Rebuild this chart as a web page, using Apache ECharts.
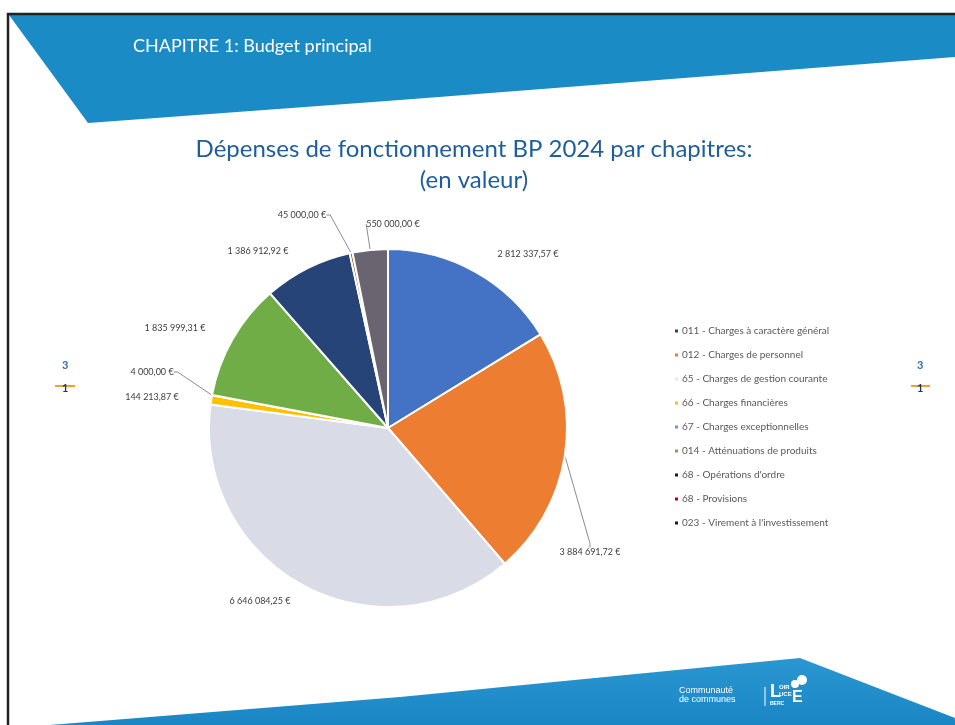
<!DOCTYPE html>
<html><head><meta charset="utf-8">
<script src="https://cdn.jsdelivr.net/npm/echarts@6/dist/echarts.min.js"></script>
<style>html,body{margin:0;padding:0;background:#fff}#c{width:955px;height:725px}</style>
</head><body><div id="c"></div>
<script>
var categories = ["011 - Charges à caractère général","012 - Charges de personnel","65 - Charges de gestion courante","66 - Charges financières","67 - Charges exceptionnelles","014 - Atténuations de produits","68 - Opérations d'ordre","68 - Provisions","023 - Virement à l'investissement"];
var values = [2812337.57, 3884691.72, 6646084.25, 144213.87, 4000.00, 1835999.31, 1386912.92, 45000.00, 550000.00];
var colors = ["#4472C4","#ED7D31","#D9DBE6","#FFC000","#5B9BD5","#70AD47","#264478","#9E480E","#6A6370"];
var legendColors = ["#264478","#ED7D31","#E8E8EE","#FFC000","#5B9BD5","#70AD47","#1a1a1a","#C00000","#1a1a1a"];
// label anchor layout (styling, not data)
var labelLayoutPos = [[528,254],[590,552],[260,601],[152,397],[152,372],[175,328],[258,251],[302,215],[393,224]];
var showLine = [false,true,false,false,true,false,false,true,true];

function fmt(v){
  var s = v.toFixed(2).split('.');
  var i = s[0].replace(/\B(?=(\d{3})+(?!\d))/g,' ');
  return i + ',' + s[1] + ' €';
}
var FONT = 'Lato, "Open Sans", sans-serif';
var chart = echarts.init(document.getElementById('c'));
var data = categories.map(function(n,i){
  return {name:n, value:values[i], itemStyle:{color:colors[i]}, labelLine:{show:showLine[i]}};
});
chart.setOption({
  animation:false,
  title:{text:"Dépenses de fonctionnement BP 2024 par chapitres:\n(en valeur)", top:129, itemGap:0,
    textStyle:{fontFamily:FONT, fontSize:24, fontWeight:'normal', color:'#1F5E9C', lineHeight:31}, left:469, textAlign:'center'},
  legend:{orient:'vertical', left:668, top:320, itemWidth:5, itemHeight:5, itemGap:12, icon:'rect',
    data: categories.map(function(n,i){return {name:n, itemStyle:{color:legendColors[i]}};}),
    textStyle:{fontFamily:FONT, fontSize:10, color:'#595959', lineHeight:12, padding:[0,0,0,-2]}},
  graphic:[
    {type:'polygon', z:-1, shape:{points:[[9,15],[955,15],[955,57],[400,100],[88,123]]}, style:{fill:'#1B8BC6'}},
    {type:'line', shape:{x1:7,y1:14,x2:955,y2:14}, style:{stroke:'#222',lineWidth:2.5}},
    {type:'line', shape:{x1:8,y1:13,x2:8,y2:725}, style:{stroke:'#222',lineWidth:2.5}},
    {type:'text', left:133, top:37, style:{text:'CHAPITRE 1: Budget principal', fill:'#fff', font:'18px '+FONT}},
    {type:'polygon', z:-1, shape:{points:[[50,725],[400,697],[800,658],[955,718],[955,725]]},
      style:{fill:new echarts.graphic.LinearGradient(0,0,0,1,[{offset:0,color:'#2A97D2'},{offset:1,color:'#1A86C4'}])}},
    {type:'text', left:679, top:686, style:{text:'Communauté\nde communes', fill:'#fff', font:'9px "Liberation Sans", sans-serif', lineHeight:9}},
    {type:'line', shape:{x1:765,y1:687,x2:765,y2:706}, style:{stroke:'#fff',lineWidth:1}},
    {type:'text', left:770, top:683, style:{text:'L', fill:'#fff', font:'bold 18px "Liberation Sans", sans-serif'}},
    {type:'text', left:779, top:684, style:{text:'OIR\nUCE', fill:'#fff', font:'bold 6px "Liberation Sans", sans-serif', lineHeight:7}},
    {type:'text', left:770, top:701, style:{text:'BERC', fill:'#fff', font:'bold 5px "Liberation Sans", sans-serif'}},
    {type:'text', left:792, top:690, style:{text:'E', fill:'#fff', font:'bold 16px "Liberation Sans", sans-serif'}},
    {type:'circle', shape:{cx:802,cy:680,r:5}, style:{fill:'#fff'}},
    {type:'circle', shape:{cx:795,cy:684,r:4}, style:{fill:'#fff'}},
    {type:'line', z:1, shape:{x1:55,y1:386,x2:75,y2:386}, style:{stroke:'#F0A030',lineWidth:2}},
    {type:'text', z:2, left:62, top:360, style:{text:'3', fill:'#2E6DB4', font:'bold 11px '+FONT}},
    {type:'text', z:2, left:62, top:383, style:{text:'1', fill:'#1F3A5F', font:'bold 11px '+FONT}},
    {type:'line', z:1, shape:{x1:911,y1:386,x2:930,y2:386}, style:{stroke:'#F0A030',lineWidth:2}},
    {type:'text', z:2, left:917, top:360, style:{text:'3', fill:'#2E6DB4', font:'bold 11px '+FONT}},
    {type:'text', z:2, left:917, top:383, style:{text:'1', fill:'#1F3A5F', font:'bold 11px '+FONT}}
  ],
  series:[{
    type:'pie', center:[388,428], radius:179, startAngle:90, clockwise:true, minAngle:0,
    avoidLabelOverlap:false,
    itemStyle:{borderColor:'#fff', borderWidth:2},
    label:{show:true, position:'outside', formatter:function(p){return fmt(p.value);},
      fontFamily:FONT, fontSize:9, color:'#404040'},
    labelLine:{show:true, length:8, length2:4, smooth:false, lineStyle:{color:'#8c8c8c', width:1}},
    labelLayout:function(p){
      var pos = labelLayoutPos[p.dataIndex];
      return {x:pos[0], y:pos[1], align:'center', verticalAlign:'middle'};
    },
    emphasis:{disabled:true},
    data:data
  }]
});
</script></body></html>
